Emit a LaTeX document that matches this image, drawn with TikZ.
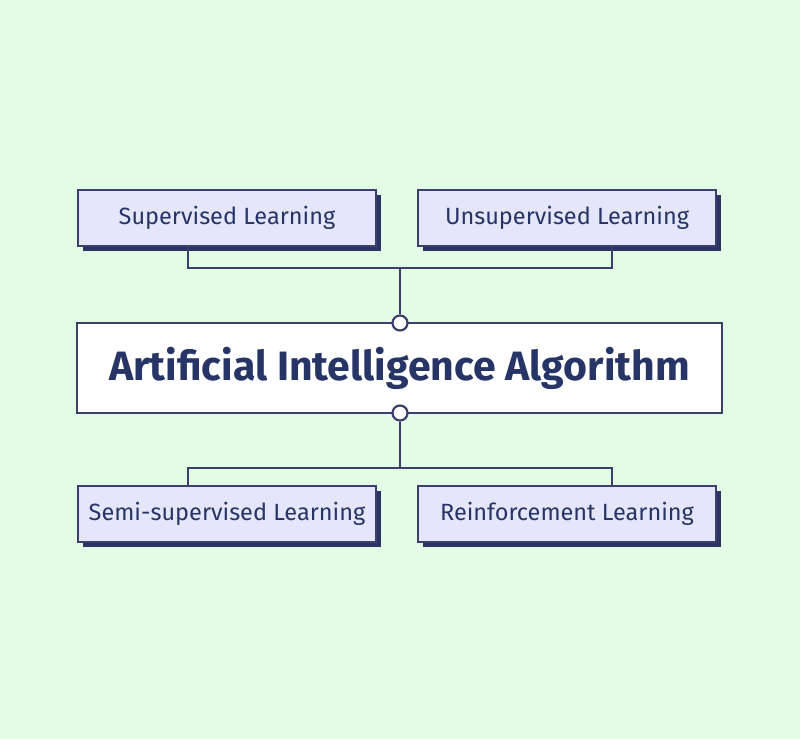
\documentclass[tikz,border=0pt]{standalone}
\usepackage{fontspec}
\setmainfont{Fira Sans}
\begin{document}
\begin{tikzpicture}[x=1pt,y=-1pt,
  bg/.style={fill=bgc,draw=none},
  sub/.style={draw=linec,line width=1.5pt,fill=boxc,minimum width=298pt,minimum height=56pt,inner sep=0pt,text=txtc,font=\fontsize{23.5}{28}\selectfont},
  shad/.style={fill=shadc,draw=none},
  conn/.style={draw=linec,line width=2.2pt},
  dot/.style={circle,draw=linec,line width=2.2pt,fill=white,minimum size=15pt,inner sep=0pt}]
\definecolor{bgc}{HTML}{E3FCE6}
\definecolor{boxc}{HTML}{E6E6FA}
\definecolor{linec}{HTML}{3A3F6B}
\definecolor{shadc}{HTML}{2D3263}
\definecolor{txtc}{HTML}{263466}
\fill[bg] (0,0) rectangle (800,739);
\useasboundingbox (0,0) rectangle (800,739);
% shadows
\fill[shad] (83,195) rectangle (381,251);
\fill[shad] (423,195) rectangle (721,251);
\fill[shad] (83,491) rectangle (381,547);
\fill[shad] (423,491) rectangle (721,547);
\node[sub] (sup) at (227,218) {Supervised Learning};
\node[sub] (uns) at (567,218) {Unsupervised Learning};
\node[sub] (semi) at (227,514) {Semi-supervised Learning};
\node[sub] (rein) at (567,514) {Reinforcement Learning};
\node[draw=linec,line width=1.5pt,fill=white,minimum width=645pt,minimum height=90pt,inner sep=0pt,text=txtc,font=\fontsize{41}{48}\selectfont\bfseries] (ai) at (399.5,368) {Artificial Intelligence Algorithm};
\node[dot] (dt) at (400,323) {};
\node[dot] (db) at (400,413) {};
\coordinate (jt) at (400,268);
\coordinate (jb) at (400,468);
\draw[conn] (sup.south -| 188,0) |- (jt) -| (uns.south -| 612,0);
\draw[conn] (jt) -- (dt.north);
\draw[conn] (semi.north -| 188,0) |- (jb) -| (rein.north -| 612,0);
\draw[conn] (jb) -- (db.south);
\end{tikzpicture}
\end{document}
